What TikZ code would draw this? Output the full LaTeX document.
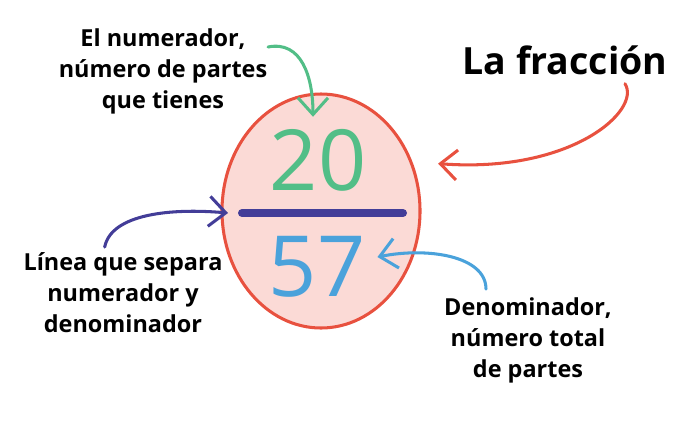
\documentclass[tikz,border=0pt]{standalone}
\usepackage{fontspec}
\setmainfont{Open Sans}
\usepackage{tikz}
\usetikzlibrary{shapes.geometric, arrows.meta, positioning}
\definecolor{numgreen}{HTML}{52BE87}
\definecolor{fracred}{HTML}{E8513F}
\definecolor{fracpink}{HTML}{FBDAD6}
\definecolor{barpurple}{HTML}{433D98}
\definecolor{denblue}{HTML}{4AA2DB}
\tikzstyle{every node}=[font=\fontsize{20}{26.5}\selectfont\bfseries, align=center]
\tikzstyle{digits}=[font=\fontsize{72}{72}\selectfont, inner sep=0pt]
\tikzstyle{pointer}=[line width=2.6pt, line cap=round, -{Straight Barb[length=0.5cm, width=0.9cm, line width=2.6pt]}]

\begin{document}
\begin{tikzpicture}[x=0.03cm, y=-0.03cm]
  \useasboundingbox (0,0) rectangle (691,434);
  \node[ellipse, draw=fracred, fill=fracpink, line width=2.6pt, minimum width=5.94cm, minimum height=7.02cm] (frac) at (321,211) {};
  \node[digits, text=numgreen] (twenty) at (318,160) {20};
  \node[digits, text=denblue] (fifty) at (317,267) {57};
  \coordinate (barL) at (242,213);
  \coordinate (barR) at (403,213);
  \draw[barpurple, line width=0.24cm, line cap=round] (barL) -- (barR);
  \node (numtext) at (163,71) {El numerador,\\número de partes\\que tienes};
  \node[font=\fontsize{32}{32}\selectfont\bfseries] (title) at (565,60) {La fracción};
  \node (linetext) at (123,293) {Línea que separa\\numerador y\\denominador};
  \node (dentext) at (528,340) {Denominador,\\número total\\de partes};
  % flechas
  \draw[pointer, numgreen] ([shift={(-0.1cm,0.72cm)}]numtext.east) .. controls +(1cm,0.2cm) and +(0,1.2cm) .. ([shift={(-0.15cm,0.36cm)}]twenty.north);
  \draw[pointer, fracred] ([shift={(1.8cm,-0.15cm)}]title.south) .. controls +(0.5cm,-0.8cm) and +(4cm,-0.3cm) .. ([shift={(0.66cm,0.27cm)}]frac.22);
  \draw[pointer, barpurple] ([xshift=-0.55cm, yshift=0.05cm]linetext.north) .. controls +(0.2cm,1cm) and +(-1.7cm,0.15cm) .. ([xshift=-0.42cm]barL);
  \draw[pointer, denblue] ([xshift=-1.26cm, yshift=0.12cm]dentext.north) .. controls +(0,1cm) and +(1.5cm,0.3cm) .. ([shift={(0.36cm,0.3cm)}]fifty.east);
\end{tikzpicture}
\end{document}
